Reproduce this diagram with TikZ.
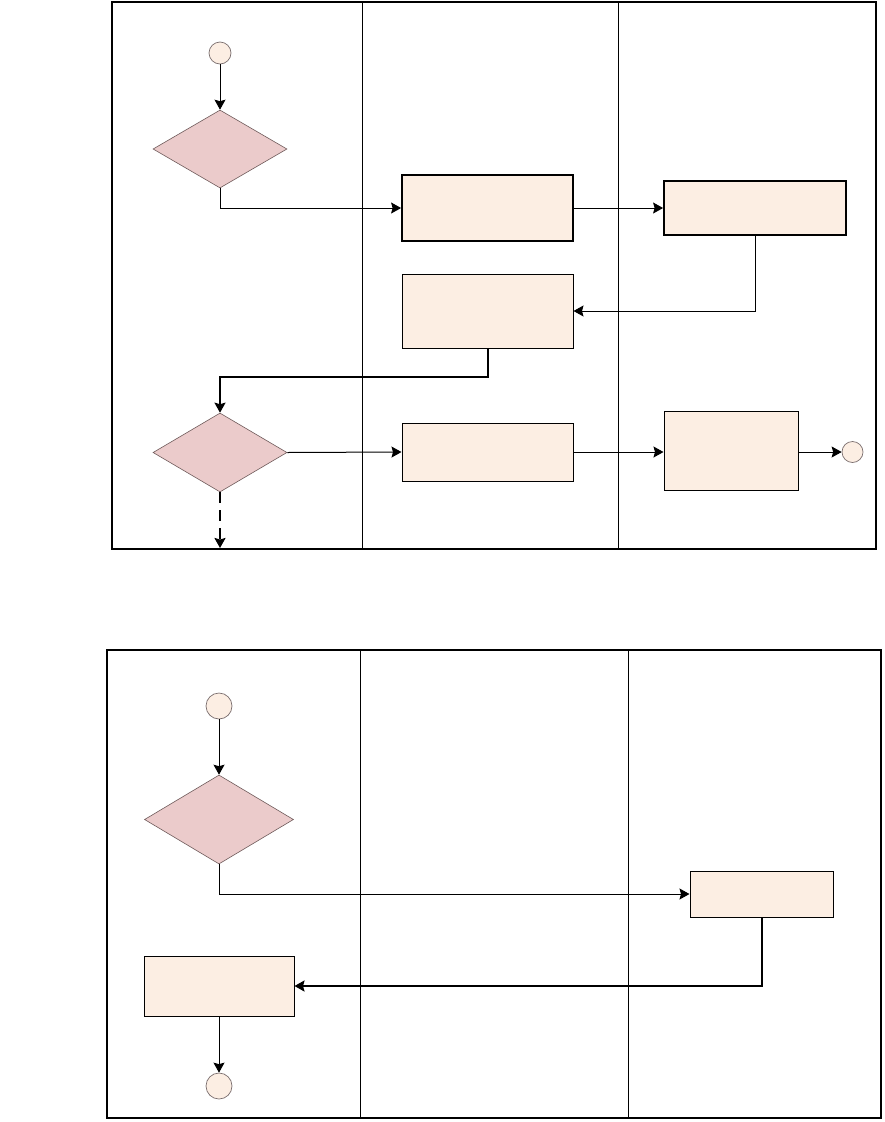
\documentclass[tikz,border=0pt]{standalone}
\usetikzlibrary{shapes.geometric,arrows.meta}
\definecolor{boxfill}{HTML}{FCEEE3}
\definecolor{dfill}{HTML}{EBCBCB}
\definecolor{dline}{HTML}{6E5A5A}
\definecolor{cline}{HTML}{7A6E6E}
\begin{document}
\begin{tikzpicture}[x=1pt,y=-1pt,
  frame/.style={draw=black,line width=1.3pt},
  lane/.style={draw=black,line width=1pt},
  proc/.style={draw=black,fill=boxfill,rectangle,inner sep=0pt,line width=1pt},
  procb/.style={proc,line width=1.8pt},
  dec/.style={draw=dline,fill=dfill,diamond,inner sep=0pt,line width=0.6pt},
  term/.style={draw=cline,fill=boxfill,circle,inner sep=0pt,line width=0.7pt},
  flow/.style={draw=black,line width=1pt,-{Stealth[length=10pt,width=11pt,inset=1.5pt]}},
  flowb/.style={flow,line width=2pt},
]
\useasboundingbox (0,0) rectangle (884,1122);
% ---------- top swimlane ----------
\draw[frame] (112,2) rectangle (876,549);
\draw[lane] (362,2) -- (362,549);
\draw[lane] (618,2) -- (618,549);

\node[term,minimum size=22pt] (s1) at (220,53) {};
\node[dec,minimum width=134pt,minimum height=78pt] (d1) at (220,149) {};
\node[procb,minimum width=171pt,minimum height=66pt] (b1) at (487.5,208) {};
\node[procb,minimum width=182pt,minimum height=54pt] (b2) at (755,208) {};
\node[proc,minimum width=171pt,minimum height=74pt] (b3) at (487.5,311) {};
\node[dec,minimum width=134pt,minimum height=79pt] (d2) at (220,452.5) {};
\node[proc,minimum width=171pt,minimum height=58pt] (b4) at (487.5,452) {};
\node[proc,minimum width=134pt,minimum height=79pt] (b5) at (731,450.5) {};
\node[term,minimum size=21pt] (e1) at (852.5,452) {};
\coordinate (k1) at (487.5,377);
\coordinate (k2) at (220,548);

\draw[flow] (s1) -- (d1.north);
\draw[flow] (d1.south) |- (b1.west);
\draw[flow] (b1.east) -- (b2.west);
\draw[flow] (b2.south) |- (b3.east);
\draw[flowb] (b3.south) -- (k1) -| (d2.north);
\draw[flow] (d2.east) -- (b4.west);
\draw[flow] (b4.east) -- (b5.west |- b4.east);
\draw[flow] (b5.east |- e1.west) -- (e1.west);
\draw[flowb,dash pattern=on 11pt off 7pt] (d2.south) -- (k2);

% ---------- bottom swimlane ----------
\draw[frame] (107,650) rectangle (881,1118);
\draw[lane] (360,650) -- (360,1118);
\draw[lane] (628,650) -- (628,1118);

\node[term,minimum size=26pt] (s2) at (219,706) {};
\node[dec,minimum width=149pt,minimum height=89pt] (d3) at (219,819.5) {};
\node[proc,minimum width=143pt,minimum height=46pt] (b6) at (761.5,894) {};
\node[proc,minimum width=150pt,minimum height=60pt] (b7) at (219,986) {};
\node[term,ellipse,minimum width=26pt,minimum height=26pt] (e2) at (219,1086) {};

\draw[flow] (s2) -- (d3.north);
\draw[flow] (d3.south) |- (b6.west);
\draw[flowb] (b6.south) |- (b7.east);
\draw[flow] (b7.south) -- (e2.north);
\end{tikzpicture}
\end{document}
